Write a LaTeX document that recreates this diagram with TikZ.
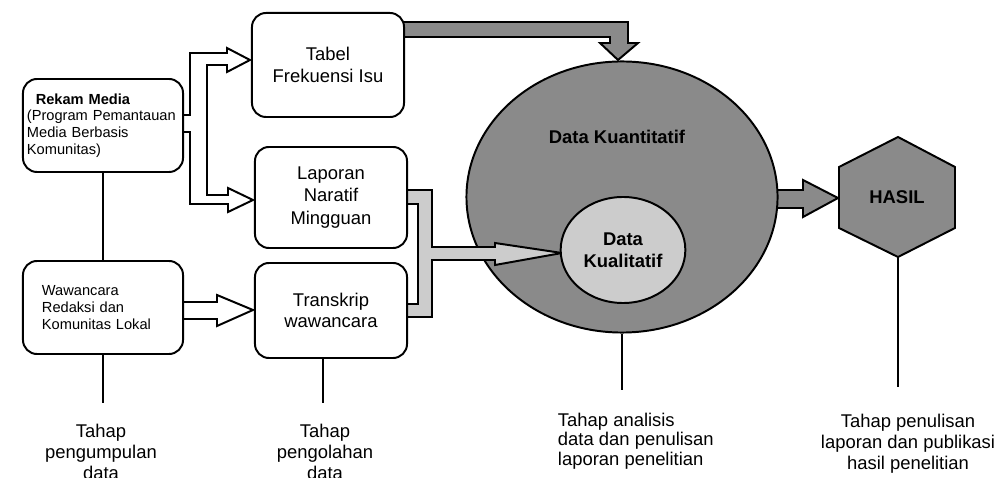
\documentclass[tikz,border=0pt]{standalone}
\usepackage{fontspec}
\setmainfont{Liberation Sans}
\usetikzlibrary{positioning,shapes.geometric}
\definecolor{abutua}{RGB}{138,138,138}
\definecolor{abumuda}{RGB}{204,204,204}
\newcommand{\hurufbesar}{\fontsize{13.1}{15.5}\selectfont}
\newcommand{\hurufkecil}{\fontsize{10.4}{11.8}\selectfont}
\tikzset{
  kotak/.style={draw,fill=white,rounded corners=0.35cm,minimum width=3.8cm,align=center,font=\hurufbesar},
  panahputih/.style={draw,fill=white,line join=miter},
  panahgelap/.style={draw,fill=abutua,line join=miter},
  panahmuda/.style={draw,fill=abumuda,line join=miter},
  tahap/.style={inner sep=0pt,align=center,font=\fontsize{13.1}{14.9}\selectfont},
}
\begin{document}
\begin{tikzpicture}[x=0.025cm,y=-0.025cm,line width=1.4pt]
	\useasboundingbox (0,0) rectangle (999,478);
	%panah abu-abu tua
	\filldraw[panahgelap] (400,22)--(628,22)--(628,43)--(638,43)--(618,60)--(600,43)--(610,43)--(610,37)--(400,37)--cycle;
	\filldraw[panahgelap] (765,190)--(803,190)--(803,180)--(838,198)--(803,217)--(803,208)--(765,208)--cycle;
	%lingkaran data
	\node[ellipse,draw,fill=abutua,minimum width=7.775cm,minimum height=6.775cm] (kuan) at (622,197) {};
	\node[font=\hurufbesar\bfseries] (labelkuan) at (617,137) {Data Kuantitatif};
	\filldraw[panahmuda] (400,190)--(432,190)--(432,247)--(495,247)--(495,243)--(562,253)--(495,265)--(495,260)--(432,260)--(432,317)--(400,317)--(400,304)--(418,304)--(418,204)--(400,204)--cycle;
	\node[ellipse,draw,fill=abumuda,minimum width=3.075cm,minimum height=2.65cm,align=center,font=\fontsize{13.1}{15.6}\selectfont\bfseries] (kual) at (623,250) {Data\\Kualitatif};
	%panah putih
	\filldraw[panahputih] (178,115)--(190,115)--(190,53)--(227,53)--(227,48)--(250,60)--(227,72)--(227,65)--(207,65)--(207,195)--(228,195)--(228,188)--(253,200)--(228,212)--(228,204)--(190,204)--(190,132)--(178,132)--cycle;
	\filldraw[panahputih] (178,302)--(217,302)--(217,295)--(253,310)--(217,326)--(217,319)--(178,319)--cycle;
	%kotak
	\node[kotak,minimum width=4cm,minimum height=2.325cm,align=left,text width=3.8cm,inner xsep=0.1cm,font=\hurufkecil] (rekam) at (103,125.5) {\hspace*{0.22cm}\textbf{Rekam Media}\\(Program Pemantauan\\Media Berbasis\\Komunitas)};
	\node[kotak,minimum width=4cm,minimum height=2.325cm,align=left,text width=3.05cm,inner xsep=0.475cm,font=\hurufkecil] (wawan) at (103,307.5) {Wawancara\\Redaksi dan\\Komunitas Lokal};
	\node[kotak,minimum height=2.6cm] (tabel) at (328,65) {Tabel\\Frekuensi Isu};
	\node[kotak,minimum height=2.525cm,font=\fontsize{13.1}{16.2}\selectfont] (laporan) at (331,197.5) {Laporan\\Naratif\\Mingguan};
	\node[kotak,minimum height=2.375cm,font=\fontsize{13.1}{14.4}\selectfont] (transkrip) at (331,310.5) {Transkrip\\wawancara};
	%hasil
	\filldraw[fill=abutua,line join=miter] (898,137)--(955,167)--(955,228)--(898,257)--(839,228)--(839,167)--cycle;
	\coordinate (hexbawah) at (898,257);
	\node[font=\hurufbesar\bfseries] (hasil) at (897,197) {HASIL};
	%garis tahap
	\coordinate (t1) at (103,403);
	\coordinate (t2) at (323,403);
	\coordinate (t3) at (622,390);
	\coordinate (t4) at (898,387);
	\draw (rekam)--(wawan);
	\draw (wawan)--(t1);
	\draw (transkrip.south -| t2)--(t2);
	\draw (kuan)--(t3);
	\draw (hexbawah)--(t4);
	\node[tahap,anchor=north] (kumpul) at (101,423) {Tahap\\pengumpulan\\data};
	\node[tahap,anchor=north] (olah) at (325,423) {Tahap\\pengolahan\\data};
	\node[tahap,anchor=north west,align=left,font=\fontsize{13.1}{13.9}\selectfont] (analisis) at (557,412) {Tahap analisis\\data dan penulisan\\laporan penelitian};
	\node[tahap,anchor=north] (tulis) at (908,413) {Tahap penulisan\\laporan dan publikasi\\hasil penelitian};
\end{tikzpicture}
\end{document}
